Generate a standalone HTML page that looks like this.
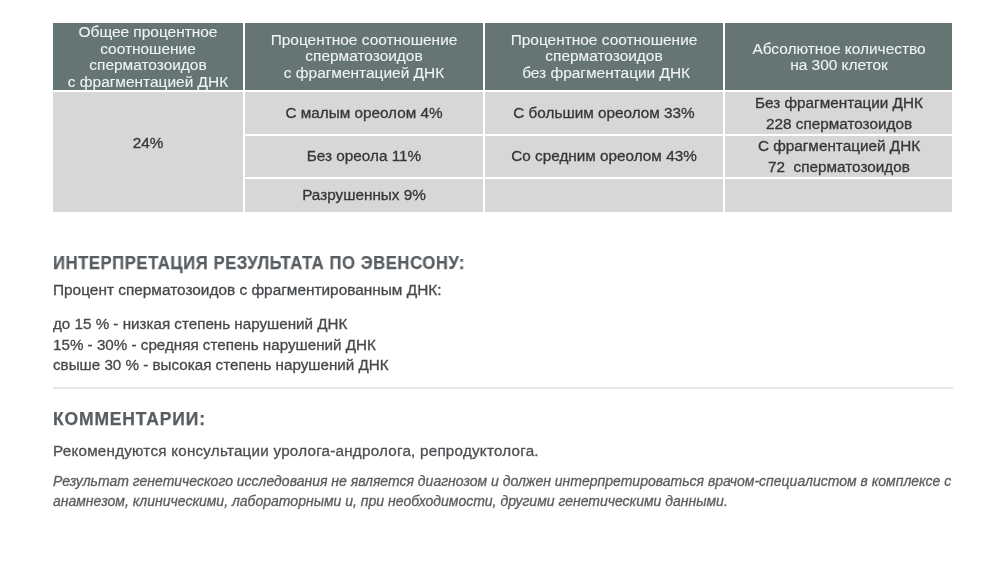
<!DOCTYPE html>
<html><head><meta charset="utf-8"><style>
html,body{margin:0;padding:0;background:#fff;width:1000px;height:581px;overflow:hidden;position:relative}
.r{position:absolute}
.t{position:absolute;will-change:transform;white-space:nowrap;line-height:20px;font-family:"Liberation Sans",sans-serif;-webkit-text-stroke:0.3px currentColor}
</style></head><body>
<div class="r" style="left:53px;top:23px;width:190px;height:67px;background:#647574"></div>
<div class="r" style="left:245px;top:23px;width:238px;height:67px;background:#647574"></div>
<div class="r" style="left:485px;top:23px;width:238px;height:67px;background:#647574"></div>
<div class="r" style="left:725px;top:23px;width:227px;height:67px;background:#647574"></div>
<div class="r" style="left:53px;top:92px;width:190px;height:120px;background:#d7d7d7"></div>
<div class="r" style="left:245px;top:92px;width:238px;height:42px;background:#d7d7d7"></div>
<div class="r" style="left:245px;top:136px;width:238px;height:41px;background:#d7d7d7"></div>
<div class="r" style="left:245px;top:179px;width:238px;height:33px;background:#d7d7d7"></div>
<div class="r" style="left:485px;top:92px;width:238px;height:42px;background:#d7d7d7"></div>
<div class="r" style="left:485px;top:136px;width:238px;height:41px;background:#d7d7d7"></div>
<div class="r" style="left:485px;top:179px;width:238px;height:33px;background:#d7d7d7"></div>
<div class="r" style="left:725px;top:92px;width:227px;height:42px;background:#d7d7d7"></div>
<div class="r" style="left:725px;top:136px;width:227px;height:41px;background:#d7d7d7"></div>
<div class="r" style="left:725px;top:179px;width:227px;height:33px;background:#d7d7d7"></div>
<div class="t" style="left:-152px;width:600px;text-align:center;top:21.74px;font-size:15.45px;color:#f0f4f4;font-weight:normal;font-style:normal;letter-spacing:0px;-webkit-text-stroke:0.1px currentColor">Общее процентное</div>
<div class="t" style="left:-152px;width:600px;text-align:center;top:38.64px;font-size:15.45px;color:#f0f4f4;font-weight:normal;font-style:normal;letter-spacing:0px;-webkit-text-stroke:0.1px currentColor">соотношение</div>
<div class="t" style="left:-152px;width:600px;text-align:center;top:55.24px;font-size:15.45px;color:#f0f4f4;font-weight:normal;font-style:normal;letter-spacing:0px;-webkit-text-stroke:0.1px currentColor">сперматозоидов</div>
<div class="t" style="left:-152px;width:600px;text-align:center;top:71.74px;font-size:15.45px;color:#f0f4f4;font-weight:normal;font-style:normal;letter-spacing:0px;-webkit-text-stroke:0.1px currentColor">с фрагментацией ДНК</div>
<div class="t" style="left:64px;width:600px;text-align:center;top:29.54px;font-size:15.45px;color:#f0f4f4;font-weight:normal;font-style:normal;letter-spacing:0px;-webkit-text-stroke:0.1px currentColor">Процентное соотношение</div>
<div class="t" style="left:64px;width:600px;text-align:center;top:46.04px;font-size:15.45px;color:#f0f4f4;font-weight:normal;font-style:normal;letter-spacing:0px;-webkit-text-stroke:0.1px currentColor">сперматозоидов</div>
<div class="t" style="left:64px;width:600px;text-align:center;top:62.54px;font-size:15.45px;color:#f0f4f4;font-weight:normal;font-style:normal;letter-spacing:0px;-webkit-text-stroke:0.1px currentColor">с фрагментацией ДНК</div>
<div class="t" style="left:304px;width:600px;text-align:center;top:29.54px;font-size:15.45px;color:#f0f4f4;font-weight:normal;font-style:normal;letter-spacing:0px;white-space:pre;-webkit-text-stroke:0.1px currentColor">Процентное соотношение</div>
<div class="t" style="left:304px;width:600px;text-align:center;top:46.04px;font-size:15.45px;color:#f0f4f4;font-weight:normal;font-style:normal;letter-spacing:0px;white-space:pre;-webkit-text-stroke:0.1px currentColor">сперматозоидов</div>
<div class="t" style="left:304px;width:600px;text-align:center;top:62.54px;font-size:15.45px;color:#f0f4f4;font-weight:normal;font-style:normal;letter-spacing:0px;white-space:pre;-webkit-text-stroke:0.1px currentColor"> без фрагментации ДНК</div>
<div class="t" style="left:538.5px;width:600px;text-align:center;top:38.64px;font-size:15.45px;color:#f0f4f4;font-weight:normal;font-style:normal;letter-spacing:0px;-webkit-text-stroke:0.1px currentColor">Абсолютное количество</div>
<div class="t" style="left:538.5px;width:600px;text-align:center;top:55.24px;font-size:15.45px;color:#f0f4f4;font-weight:normal;font-style:normal;letter-spacing:0px;-webkit-text-stroke:0.1px currentColor">на 300 клеток</div>
<div class="t" style="left:-152px;width:600px;text-align:center;top:133.19px;font-size:15.3px;color:#363636;font-weight:normal;font-style:normal;letter-spacing:0px;">24%</div>
<div class="t" style="left:64px;width:600px;text-align:center;top:103.39px;font-size:15.3px;color:#363636;font-weight:normal;font-style:normal;letter-spacing:0px;">С малым ореолом 4%</div>
<div class="t" style="left:64px;width:600px;text-align:center;top:146.39px;font-size:15.3px;color:#363636;font-weight:normal;font-style:normal;letter-spacing:0px;">Без ореола 11%</div>
<div class="t" style="left:64px;width:600px;text-align:center;top:185.49px;font-size:15.3px;color:#363636;font-weight:normal;font-style:normal;letter-spacing:0px;">Разрушенных 9%</div>
<div class="t" style="left:304px;width:600px;text-align:center;top:103.39px;font-size:15.3px;color:#363636;font-weight:normal;font-style:normal;letter-spacing:0px;">С большим ореолом 33%</div>
<div class="t" style="left:304px;width:600px;text-align:center;top:146.39px;font-size:15.3px;color:#363636;font-weight:normal;font-style:normal;letter-spacing:0px;">Со средним ореолом 43%</div>
<div class="t" style="left:538.5px;width:600px;text-align:center;top:93.09px;font-size:15.3px;color:#363636;font-weight:normal;font-style:normal;letter-spacing:0px;">Без фрагментации ДНК</div>
<div class="t" style="left:538.5px;width:600px;text-align:center;top:113.79px;font-size:15.3px;color:#363636;font-weight:normal;font-style:normal;letter-spacing:0px;">228 сперматозоидов</div>
<div class="t" style="left:538.5px;width:600px;text-align:center;top:135.79px;font-size:15.3px;color:#363636;font-weight:normal;font-style:normal;letter-spacing:0px;">С фрагментацией ДНК</div>
<div class="t" style="left:538.5px;width:600px;text-align:center;top:156.99px;font-size:15.3px;color:#363636;font-weight:normal;font-style:normal;letter-spacing:0px;white-space:pre">72  сперматозоидов</div>
<div class="t" style="left:53px;top:252.63px;font-size:17.5px;color:#575d61;font-weight:bold;font-style:normal;letter-spacing:0.62px;transform:scaleX(0.95);transform-origin:0 0;-webkit-text-stroke:0.25px currentColor">ИНТЕРПРЕТАЦИЯ РЕЗУЛЬТАТА ПО ЭВЕНСОНУ:</div>
<div class="t" style="left:53px;top:279.86px;font-size:15.4px;color:#45484b;font-weight:normal;font-style:normal;letter-spacing:0px;">Процент сперматозоидов с фрагментированным ДНК:</div>
<div class="t" style="left:53px;top:314.23px;font-size:15.2px;color:#45484b;font-weight:normal;font-style:normal;letter-spacing:0px;">до 15 % - низкая степень нарушений ДНК</div>
<div class="t" style="left:53px;top:334.53px;font-size:15.2px;color:#45484b;font-weight:normal;font-style:normal;letter-spacing:0px;">15% - 30% - средняя степень нарушений ДНК</div>
<div class="t" style="left:53px;top:354.73px;font-size:15.2px;color:#45484b;font-weight:normal;font-style:normal;letter-spacing:0px;">свыше 30 % - высокая степень нарушений ДНК</div>
<div class="r" style="left:53px;top:387px;width:900px;height:2px;background:#e4e8e8"></div>
<div class="t" style="left:53px;top:408.63px;font-size:17.5px;color:#575d61;font-weight:bold;font-style:normal;letter-spacing:0.85px;-webkit-text-stroke:0.25px currentColor">КОММЕНТАРИИ:</div>
<div class="t" style="left:53px;top:440.93px;font-size:15.2px;color:#4d5053;font-weight:normal;font-style:normal;letter-spacing:0.24px;">Рекомендуются консультации уролога-андролога, репродуктолога.</div>
<div class="t" style="left:53px;top:470.74px;font-size:14px;color:#5a5d60;font-weight:normal;font-style:italic;letter-spacing:0px;">Результат генетического исследования не является диагнозом и должен интерпретироваться врачом-специалистом в комплексе с</div>
<div class="t" style="left:53px;top:491.24px;font-size:14px;color:#5a5d60;font-weight:normal;font-style:italic;letter-spacing:0px;">анамнезом, клиническими, лабораторными и, при необходимости, другими генетическими данными.</div>
</body></html>
